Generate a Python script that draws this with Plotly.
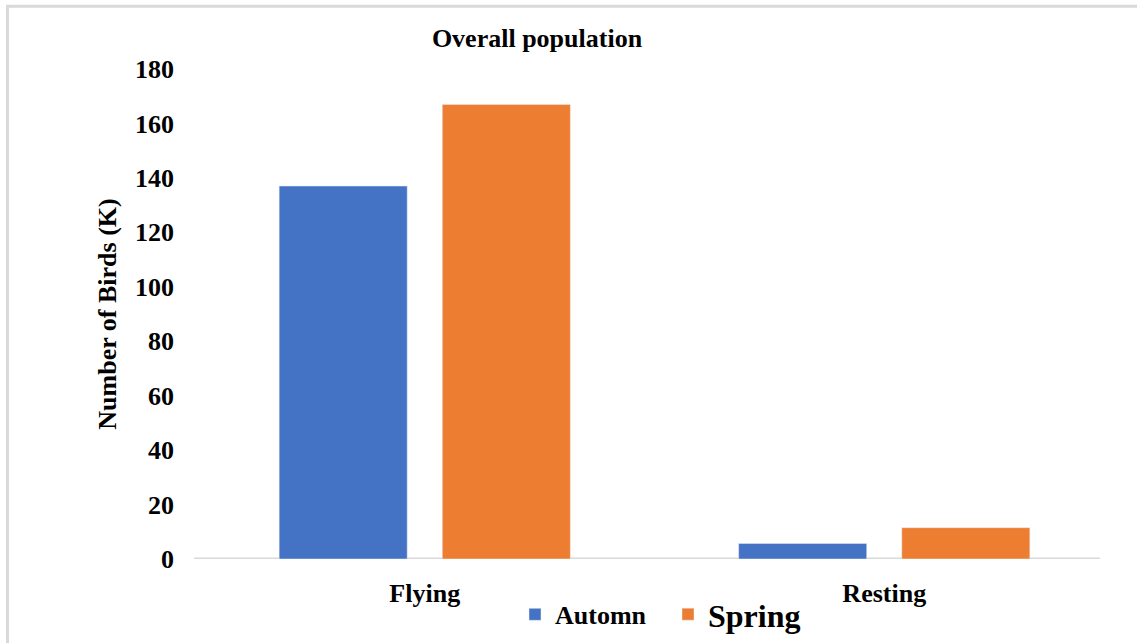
import plotly.graph_objects as go

# Bird counts (thousands) by behaviour and migration season
categories = ["Flying", "Resting"]
automn_counts = [137, 5.7]
spring_counts = [167, 11.5]
y_ticks = [0, 20, 40, 60, 80, 100, 120, 140, 160, 180]

BLUE = "#4472C4"
ORANGE = "#ED7D31"
GRAY = "#D9D9D9"
FONT = "Liberation Serif"

W, H = 1137, 643
ML, MR, MT, MB = 195, 23, 68.5, 83.5
PW, PH = W - ML - MR, H - MT - MB


def px_x(x):
    return (x - ML) / PW


def px_y(y):
    return (H - MB - y) / PH


fig = go.Figure()
fig.add_trace(go.Bar(x=categories, y=automn_counts, name="<b>Automn</b>",
                     marker_color=BLUE, legend="legend"))
fig.add_trace(go.Bar(x=categories, y=spring_counts, name="<b>Spring</b>",
                     marker_color=ORANGE, legend="legend2"))

fig.update_layout(
    width=W, height=H,
    margin=dict(l=ML, r=MR, t=MT, b=MB, pad=0, autoexpand=False),
    paper_bgcolor="white", plot_bgcolor="white",
    font=dict(family=FONT, size=26, color="#000000"),
    barmode="group", bargap=0.29, bargroupgap=0.215,
    title=dict(text="<b>Overall population</b>", x=537 / W, xref="container",
               xanchor="center", y=1 - 38 / H, yref="container", yanchor="middle",
               font=dict(family=FONT, size=26, color="#000000")),
    xaxis=dict(range=[-0.5, 1.5], showgrid=False, zeroline=False, showline=False,
               ticks="", tickfont=dict(family=FONT, size=26),
               tickprefix="<b>", ticksuffix="</b>",
               ticklabelstandoff=16),
    yaxis=dict(range=[0, 180], tickvals=y_ticks, showgrid=False, zeroline=False,
               showline=False, ticks="",
               tickfont=dict(family=FONT, size=26, weight="bold"),
               ticklabelstandoff=20,
               title=dict(text="<b>Number of Birds (K)</b>", standoff=10,
                          font=dict(family=FONT, size=26))),
    legend=dict(orientation="h", x=px_x(515), xanchor="left", y=px_y(615),
                yanchor="middle", font=dict(family=FONT, size=26),
                bgcolor="rgba(0,0,0,0)"),
    legend2=dict(orientation="h", x=px_x(668), xanchor="left", y=px_y(615),
                 yanchor="middle", font=dict(family=FONT, size=32),
                 bgcolor="rgba(0,0,0,0)"),
    showlegend=True,
)

# category baseline
fig.add_shape(type="line", xref="paper", yref="y", x0=px_x(194), x1=px_x(1100),
              y0=0, y1=0, line=dict(color=GRAY, width=3), layer="below")

# chart frame
fig.add_shape(type="rect", xref="paper", yref="paper",
              x0=px_x(7.5), x1=px_x(1160), y0=px_y(670), y1=px_y(5.5),
              line=dict(color=GRAY, width=3), fillcolor="rgba(0,0,0,0)")

fig.write_html("out.html")
